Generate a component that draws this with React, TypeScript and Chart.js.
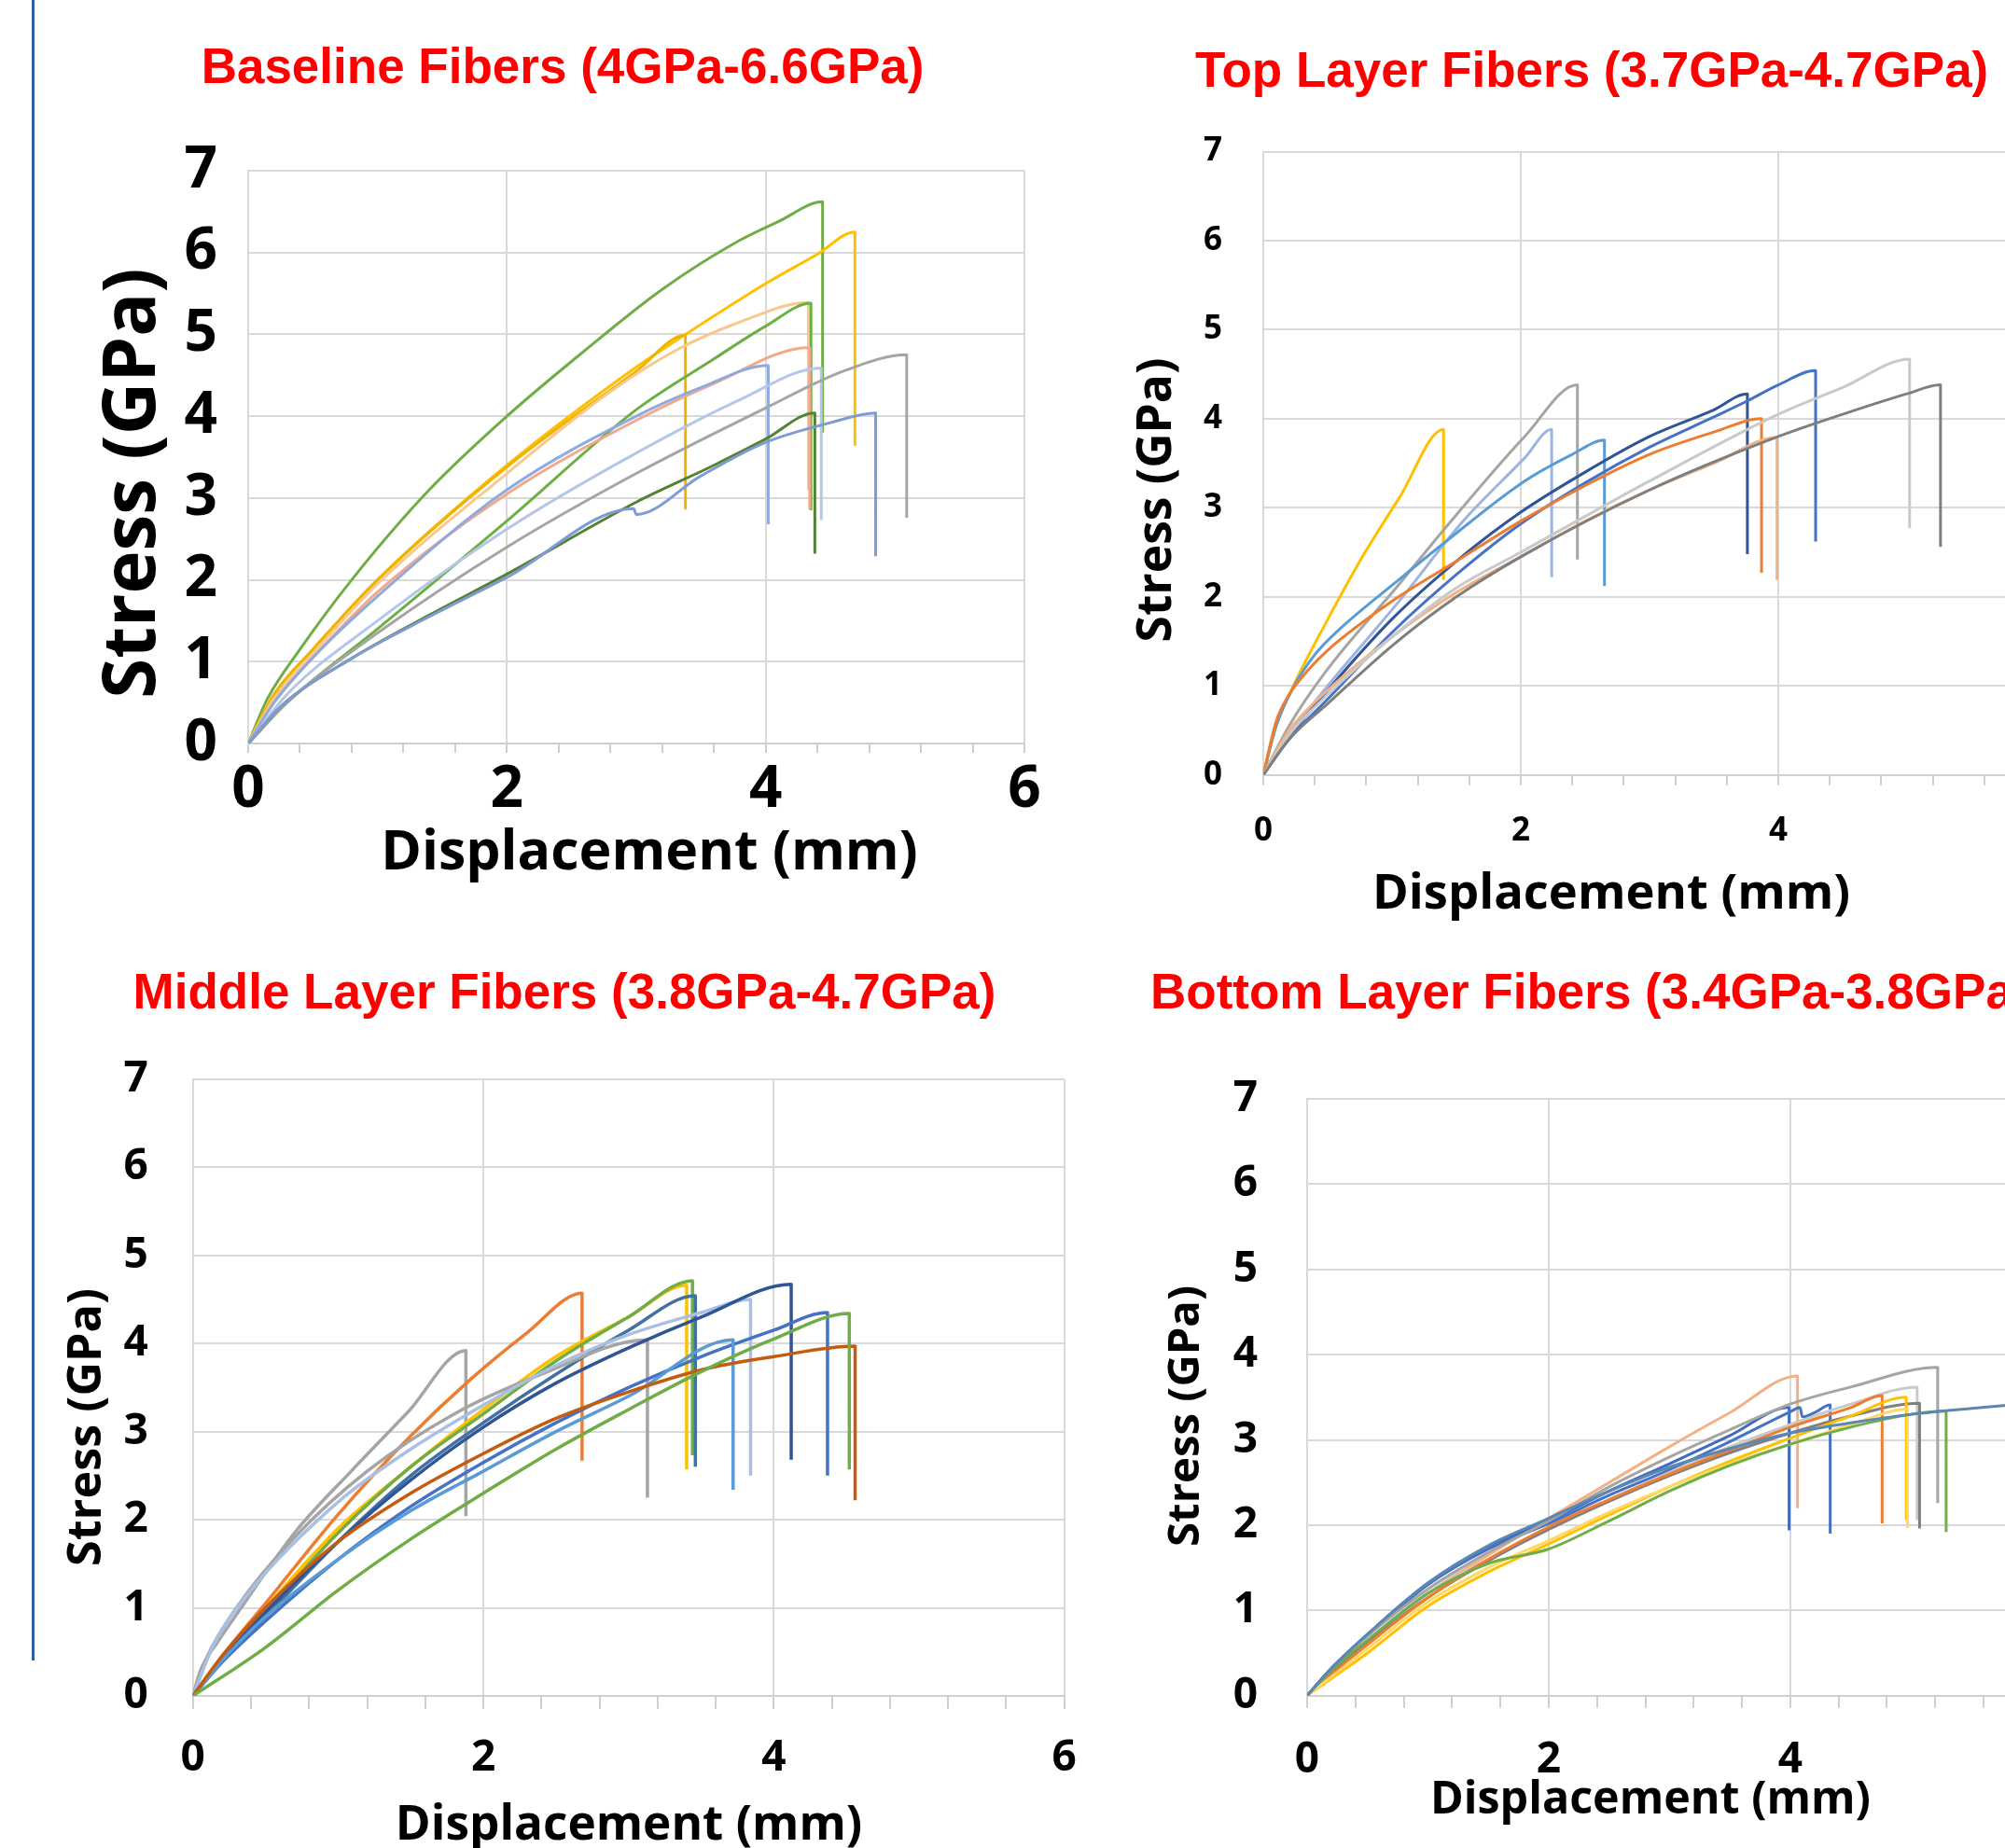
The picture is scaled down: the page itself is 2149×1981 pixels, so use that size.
import React, { useEffect, useRef } from 'react';
import { Chart, registerables } from 'chart.js';

Chart.register(...registerables);

// ---------------- DATA ----------------
// Axis tick settings (shared)
const xAxisMin = 0;
const xAxisMax = 6;
const xMinorStep = 0.4;
const xLabelEvery = 2;
const yAxisMin = 0;
const yAxisMax = 7;
const yStep = 1;

// Baseline fibers
const baselineNames = ['B1', 'B2', 'B3', 'B4', 'B5', 'B6', 'B7', 'B8', 'B9', 'B10', 'B11'];
const baselineX = [
  [0, 0.25, 0.81, 1.4, 2.0, 2.98, 3.0, 3.5, 4.0, 4.5, 4.85, 4.85],
  [0, 0.25, 0.81, 1.4, 2.0, 3.0, 3.6, 4.0, 4.38, 4.38],
  [0, 0.3, 1.0, 2.0, 3.0, 4.0, 4.6, 5.09, 5.09],
  [0, 0.3, 1.0, 2.0, 3.0, 3.8, 4.43, 4.43],
  [0, 0.2, 0.5, 1.0, 2.0, 3.0, 3.5, 4.02, 4.02],
  [0, 0.2, 0.5, 1.0, 2.0, 3.0, 3.6, 4.34, 4.34],
  [0, 0.3, 1.0, 2.0, 3.0, 3.6, 4.0, 4.35, 4.35],
  [0, 0.2, 0.5, 1.0, 2.0, 2.8, 3.3, 3.8, 4.33, 4.33],
  [0, 0.2, 0.5, 1.0, 2.0, 3.0, 3.38, 3.38],
  [0, 0.2, 0.5, 1.0, 2.0, 3.0, 3.4, 4.0, 4.4, 4.69, 4.69],
  [0, 0.15, 0.4, 0.8, 1.4, 2.0, 2.6, 3.2, 3.8, 4.1, 4.44, 4.44],
];
const baselineY = [
  [0, 0.45, 1.05, 1.55, 2.03, 2.87, 2.8, 3.27, 3.68, 3.92, 4.04, 2.29],
  [0, 0.45, 1.05, 1.57, 2.07, 2.95, 3.4, 3.72, 4.04, 2.32],
  [0, 0.5, 1.35, 2.4, 3.3, 4.1, 4.55, 4.75, 2.76],
  [0, 0.6, 1.5, 2.62, 3.55, 4.2, 4.59, 2.73],
  [0, 0.5, 1.05, 1.8, 3.1, 4.0, 4.35, 4.62, 2.68],
  [0, 0.5, 1.05, 1.85, 3.05, 3.95, 4.4, 4.84, 2.86],
  [0, 0.5, 1.4, 2.72, 4.08, 4.7, 5.1, 5.38, 2.85],
  [0, 0.55, 1.1, 1.95, 3.3, 4.3, 4.8, 5.15, 5.39, 3.1],
  [0, 0.6, 1.15, 2.0, 3.38, 4.55, 4.99, 2.86],
  [0, 0.6, 1.15, 2.0, 3.4, 4.6, 5.02, 5.62, 5.98, 6.25, 3.64],
  [0, 0.55, 1.15, 2.0, 3.1, 4.0, 4.8, 5.55, 6.15, 6.38, 6.62, 3.8],
];
const baselineColors = ['#7F9BD6', '#548235', '#A5A5A5', '#B4C7E7', '#8FAADC', '#F2A98A', '#6BAF45', '#F7C98F', '#F0B400', '#FFC000', '#70AD47'];

// Top layer fibers
const topNames = ['T1', 'T2', 'T3', 'T4', 'T5', 'T6', 'T7', 'T8', 'T9', 'T10'];
const topX = [
  [0, 0.2, 0.5, 1, 1.5, 2, 3, 4, 4.5, 5, 5.26, 5.26],
  [0, 0.2, 0.5, 1, 1.5, 2, 3, 4, 4.5, 5.02, 5.02],
  [0, 0.2, 0.5, 1, 1.5, 2, 2.5, 3, 3.5, 3.99, 3.99],
  [0, 0.1, 0.2, 0.35, 0.5, 1, 1.5, 2, 2.5, 3, 3.5, 3.87, 3.87],
  [0, 0.2, 0.5, 1, 1.5, 2, 2.5, 3, 3.5, 3.76, 4.0, 4.29, 4.29],
  [0, 0.2, 0.5, 1, 1.5, 2, 2.5, 3, 3.5, 3.76, 3.76],
  [0, 0.1, 0.24, 0.4, 0.58, 1.06, 1.4, 2.03, 2.4, 2.65, 2.65],
  [0, 0.2, 0.5, 1.06, 1.54, 2.03, 2.24, 2.24],
  [0, 0.2, 0.48, 1.06, 1.4, 2.03, 2.44, 2.44],
  [0, 0.1, 0.24, 0.48, 0.77, 1.06, 1.4, 1.4],
];
const topY = [
  [0, 0.4, 0.8, 1.45, 2.0, 2.45, 3.2, 3.8, 4.05, 4.28, 4.38, 2.56],
  [0, 0.45, 0.9, 1.55, 2.1, 2.5, 3.3, 4.05, 4.35, 4.67, 2.77],
  [0, 0.5, 0.95, 1.55, 2.05, 2.45, 2.85, 3.2, 3.5, 3.79, 2.19],
  [0, 0.6, 0.9, 1.18, 1.4, 1.95, 2.4, 2.85, 3.25, 3.6, 3.85, 4.0, 2.27],
  [0, 0.4, 0.85, 1.6, 2.25, 2.82, 3.28, 3.68, 4.02, 4.2, 4.38, 4.54, 2.62],
  [0, 0.42, 0.95, 1.75, 2.4, 2.95, 3.4, 3.8, 4.1, 4.28, 2.48],
  [0, 0.55, 1.0, 1.35, 1.62, 2.2, 2.6, 3.3, 3.6, 3.76, 2.12],
  [0, 0.45, 1.0, 1.96, 2.83, 3.56, 3.88, 2.22],
  [0, 0.55, 1.15, 2.15, 2.75, 3.8, 4.38, 2.42],
  [0, 0.55, 1.02, 1.69, 2.45, 3.12, 3.88, 2.19],
];
const topColors = ['#7F7F7F', '#C9C9C9', '#F4B183', '#ED7D31', '#4472C4', '#2F5597', '#5B9BD5', '#9DB4E0', '#A5A5A5', '#FFC000'];

// Middle layer fibers
const middleNames = ['M1', 'M2', 'M3', 'M4', 'M5', 'M6', 'M7', 'M8', 'M9', 'M10', 'M11', 'M12'];
const middleX = [
  [0, 0.5, 1, 1.5, 2, 2.5, 3, 3.5, 4, 4.52, 4.52],
  [0, 0.2, 0.5, 1, 1.5, 2, 2.5, 3, 3.5, 4, 4.56, 4.56],
  [0, 0.2, 0.5, 1, 1.5, 2, 2.5, 3, 3.72, 3.72],
  [0, 0.2, 0.5, 1, 1.5, 2, 2.5, 3, 3.5, 4, 4.37, 4.37],
  [0, 0.2, 0.5, 1, 1.5, 2, 2.5, 3, 3.5, 4.12, 4.12],
  [0, 0.15, 0.4, 1, 1.5, 2, 2.5, 3, 3.5, 3.84, 3.84],
  [0, 0.1, 0.3, 0.7, 1.2, 1.8, 2.4, 3.13, 3.13],
  [0, 0.2, 0.5, 1, 1.5, 2, 2.5, 3, 3.46, 3.46],
  [0, 0.2, 0.5, 1, 1.5, 2, 2.5, 3, 3.44, 3.44],
  [0, 0.2, 0.5, 1, 1.5, 2, 2.5, 3, 3.4, 3.4],
  [0, 0.2, 0.5, 0.99, 1.5, 1.91, 2.3, 2.68, 2.68],
  [0, 0.05, 0.17, 0.32, 0.7, 1.09, 1.48, 1.88, 1.88],
];
const middleY = [
  [0, 0.55, 1.2, 1.78, 2.3, 2.8, 3.25, 3.68, 4.05, 4.34, 2.57],
  [0, 0.45, 1.0, 1.75, 2.3, 2.75, 3.15, 3.45, 3.7, 3.85, 3.97, 2.22],
  [0, 0.4, 0.9, 1.55, 2.1, 2.55, 3.0, 3.4, 4.04, 2.34],
  [0, 0.38, 0.85, 1.55, 2.15, 2.65, 3.1, 3.5, 3.85, 4.15, 4.35, 2.5],
  [0, 0.42, 0.95, 1.75, 2.45, 3.05, 3.55, 3.95, 4.3, 4.67, 2.68],
  [0, 0.6, 1.2, 2.2, 2.8, 3.3, 3.75, 4.1, 4.35, 4.5, 2.5],
  [0, 0.45, 1.0, 1.8, 2.55, 3.2, 3.65, 4.04, 2.25],
  [0, 0.4, 0.9, 1.75, 2.5, 3.1, 3.65, 4.15, 4.54, 2.6],
  [0, 0.42, 0.95, 1.85, 2.6, 3.2, 3.8, 4.3, 4.71, 2.73],
  [0, 0.45, 1.0, 1.9, 2.6, 3.25, 3.85, 4.3, 4.66, 2.57],
  [0, 0.45, 1.05, 2.04, 2.95, 3.59, 4.12, 4.57, 2.67],
  [0, 0.28, 0.61, 0.97, 1.85, 2.55, 3.22, 3.92, 2.04],
];
const middleColors = ['#70AD47', '#C55A11', '#5B9BD5', '#4472C4', '#2F5597', '#A9BFE3', '#A5A5A5', '#41729F', '#70AD47', '#FFC000', '#ED7D31', '#A5A5A5'];

// Bottom layer fibers
const bottomNames = ['L1', 'L2', 'L3', 'L4', 'L5', 'L6', 'L7', 'L8', 'L9', 'L10', 'L11'];
const bottomX = [
  [0, 0.2, 0.5, 1, 1.5, 2, 2.5, 3, 3.5, 4, 4.5, 5, 5.5, 6],
  [0, 0.2, 0.5, 1, 1.5, 2, 2.5, 3, 3.5, 4, 4.5, 5, 5.29, 5.29],
  [0, 0.2, 0.5, 1, 1.5, 2, 2.5, 3, 3.5, 4, 4.5, 4.97, 4.97],
  [0, 0.2, 0.5, 1, 1.5, 2, 2.5, 3, 3.5, 4, 4.5, 4.96, 4.96],
  [0, 0.2, 0.5, 1, 1.5, 2, 2.5, 3, 3.5, 4, 4.5, 4.76, 4.76],
  [0, 0.2, 0.5, 1, 1.5, 2, 2.5, 3, 3.5, 4, 4.5, 5.07, 5.07],
  [0, 0.2, 0.5, 1, 1.5, 2, 2.5, 3, 3.5, 4, 4.5, 5.05, 5.05],
  [0, 0.2, 0.5, 1, 1.5, 2, 2.5, 3, 3.5, 4, 4.5, 5.22, 5.22],
  [0, 0.2, 0.5, 1, 1.5, 2, 2.5, 3, 3.5, 4.0, 4.08, 4.1, 4.2, 4.33, 4.33],
  [0, 0.2, 0.5, 1, 1.5, 2, 2.5, 3, 3.5, 3.99, 3.99],
  [0, 0.2, 0.5, 1, 1.5, 2, 2.5, 3, 3.5, 4.06, 4.06],
];
const bottomY = [
  [0, 0.32, 0.72, 1.32, 1.76, 2.08, 2.4, 2.68, 2.9, 3.08, 3.2, 3.3, 3.37, 3.43],
  [0, 0.3, 0.65, 1.2, 1.55, 1.72, 2.05, 2.4, 2.7, 2.95, 3.15, 3.3, 3.34, 1.92],
  [0, 0.22, 0.55, 1.1, 1.5, 1.82, 2.15, 2.45, 2.72, 2.95, 3.18, 3.36, 1.97],
  [0, 0.2, 0.5, 1.05, 1.45, 1.78, 2.12, 2.45, 2.75, 3.02, 3.28, 3.5, 2.06],
  [0, 0.25, 0.6, 1.15, 1.6, 1.98, 2.3, 2.6, 2.88, 3.15, 3.38, 3.52, 2.02],
  [0, 0.27, 0.62, 1.15, 1.58, 1.95, 2.28, 2.58, 2.85, 3.08, 3.28, 3.43, 1.96],
  [0, 0.28, 0.65, 1.2, 1.6, 1.95, 2.3, 2.62, 2.92, 3.18, 3.42, 3.62, 2.06],
  [0, 0.3, 0.7, 1.25, 1.68, 2.05, 2.45, 2.8, 3.12, 3.42, 3.62, 3.85, 2.26],
  [0, 0.32, 0.7, 1.3, 1.72, 2.02, 2.35, 2.65, 2.98, 3.33, 3.38, 3.27, 3.32, 3.41, 1.9],
  [0, 0.32, 0.72, 1.32, 1.75, 2.05, 2.4, 2.72, 3.05, 3.38, 1.94],
  [0, 0.27, 0.62, 1.2, 1.65, 2.08, 2.5, 2.92, 3.32, 3.75, 2.2],
];
const bottomColors = ['#5B87B5', '#70AD47', '#FFD966', '#FFC000', '#ED7D31', '#7F7F7F', '#C9C9C9', '#A5A5A5', '#4472C4', '#3F6BBF', '#F4B183'];

// Text
const baselineTitle = 'Baseline Fibers (4GPa-6.6GPa)';
const topTitle = 'Top Layer Fibers (3.7GPa-4.7GPa)';
const middleTitle = 'Middle Layer Fibers (3.8GPa-4.7GPa)';
const bottomTitle = 'Bottom Layer Fibers (3.4GPa-3.8GPa)';
const xAxisTitle = 'Displacement (mm)';
const yAxisTitle = 'Stress (GPa)';

// ---------------- STYLE / LAYOUT ----------------
const TITLE_FONT = '"Liberation Sans", Arial, sans-serif';
const AXIS_FONT = '"Open Sans", sans-serif';
const GRID = '#D9D9D9';
const AXIS_LINE = '#CFCFCF';

type Box = { left: number; top: number; width: number; height: number };
type Plot = { left: number; right: number; top: number; bottom: number };
type TextSpec = { text: string; x: number; y: number; size: number; align: CanvasTextAlign; rotate?: boolean; family: string; color: string };

type PanelSpec = {
  canvas: Box;
  plot: Plot;
  tickSize: number;
  yTickPad: number;
  xTickLen: number;
  xTickPad: number;
  lineWidth: number;
  texts: TextSpec[];
  names: string[];
  xs: number[][];
  ys: number[][];
  colors: string[];
};

const isMultiple = (v: number, m: number) => Math.abs(v / m - Math.round(v / m)) < 1e-6;

function makeTextPlugin(spec: PanelSpec) {
  return {
    id: 'panelText',
    afterDraw(chart: any) {
      const ctx: CanvasRenderingContext2D = chart.ctx;
      for (const t of spec.texts) {
        ctx.save();
        ctx.font = `bold ${t.size}px ${t.family}`;
        ctx.fillStyle = t.color;
        ctx.textAlign = t.align;
        ctx.textBaseline = 'middle';
        ctx.translate(t.x - spec.canvas.left, t.y - spec.canvas.top);
        if (t.rotate) ctx.rotate(-Math.PI / 2);
        ctx.fillText(t.text, 0, 0);
        ctx.restore();
      }
    },
  };
}

function buildConfig(spec: PanelSpec): any {
  const { canvas, plot } = spec;
  const padTop = plot.top - canvas.top;
  const padRight = canvas.left + canvas.width - plot.right;
  const yAxisWidth = plot.left - canvas.left;
  const xAxisHeight = canvas.top + canvas.height - plot.bottom;
  const tickFont = { family: AXIS_FONT, size: spec.tickSize, weight: 'bold' as const };
  return {
    type: 'line',
    data: {
      datasets: spec.xs.map((xs, i) => ({
        label: spec.names[i],
        data: xs.map((x, j) => ({ x, y: spec.ys[i][j] })),
        borderColor: spec.colors[i],
        backgroundColor: spec.colors[i],
        borderWidth: spec.lineWidth,
        pointRadius: 0,
        pointHoverRadius: 0,
        fill: false,
        cubicInterpolationMode: 'monotone',
        borderJoinStyle: 'round',
      })),
    },
    options: {
      animation: false,
      responsive: false,
      maintainAspectRatio: false,
      devicePixelRatio: 1,
      events: [],
      layout: { padding: { top: padTop, right: padRight, left: 0, bottom: 0 } },
      plugins: {
        legend: { display: false },
        tooltip: { enabled: false },
        title: { display: false },
      },
      scales: {
        x: {
          type: 'linear',
          min: xAxisMin,
          max: xAxisMax,
          afterFit: (s: any) => {
            s.height = xAxisHeight;
          },
          ticks: {
            stepSize: xMinorStep,
            autoSkip: false,
            maxRotation: 0,
            minRotation: 0,
            padding: spec.xTickPad,
            color: '#000000',
            font: tickFont,
            callback: (v: any) => (isMultiple(Number(v), xLabelEvery) ? String(Math.round(Number(v))) : ''),
          },
          grid: {
            color: (c: any) => (c.tick && isMultiple(c.tick.value, xLabelEvery) ? GRID : 'rgba(0,0,0,0)'),
            lineWidth: 2,
            drawTicks: true,
            tickLength: spec.xTickLen,
            tickColor: AXIS_LINE,
            tickWidth: 2,
          },
          border: { display: true, color: AXIS_LINE, width: 2 },
        },
        y: {
          type: 'linear',
          min: yAxisMin,
          max: yAxisMax,
          afterFit: (s: any) => {
            s.width = yAxisWidth;
          },
          ticks: {
            stepSize: yStep,
            padding: spec.yTickPad,
            color: '#000000',
            font: tickFont,
          },
          grid: { color: GRID, lineWidth: 2, drawTicks: false },
          border: { display: true, color: GRID, width: 2 },
        },
      },
    },
    plugins: [makeTextPlugin(spec)],
  };
}

function mkTexts(
  title: { text: string; x: number; y: number; align: CanvasTextAlign },
  xt: { x: number; y: number; size: number },
  yt: { x: number; y: number; size: number }
): TextSpec[] {
  return [
    { text: title.text, x: title.x, y: title.y, size: 53, align: title.align, family: TITLE_FONT, color: '#FF0000' },
    { text: xAxisTitle, x: xt.x, y: xt.y, size: xt.size, align: 'center', family: AXIS_FONT, color: '#000000' },
    { text: yAxisTitle, x: yt.x, y: yt.y, size: yt.size, align: 'center', rotate: true, family: AXIS_FONT, color: '#000000' },
  ];
}

const panels: PanelSpec[] = [
  {
    canvas: { left: 0, top: 0, width: 1140, height: 990 },
    plot: { left: 266, right: 1098, top: 183, bottom: 797 },
    tickSize: 62,
    yTickPad: 33,
    xTickLen: 10,
    xTickPad: 3,
    lineWidth: 3,
    texts: mkTexts({ text: baselineTitle, x: 603, y: 74, align: 'center' }, { x: 696, y: 915, size: 59 }, { x: 144, y: 518, size: 78 }),
    names: baselineNames,
    xs: baselineX,
    ys: baselineY,
    colors: baselineColors,
  },
  {
    canvas: { left: 1160, top: 0, width: 1060, height: 1000 },
    plot: { left: 1354, right: 2185, top: 162.5, bottom: 830.7 },
    tickSize: 35,
    yTickPad: 44,
    xTickLen: 11,
    xTickPad: 28,
    lineWidth: 3,
    texts: mkTexts({ text: topTitle, x: 1281, y: 78, align: 'left' }, { x: 1727, y: 959, size: 52.5 }, { x: 1240, y: 536, size: 51.5 }),
    names: topNames,
    xs: topX,
    ys: topY,
    colors: topColors,
  },
  {
    canvas: { left: 0, top: 1000, width: 1180, height: 981 },
    plot: { left: 206.7, right: 1140.7, top: 1156.7, bottom: 1818 },
    tickSize: 46,
    yTickPad: 48,
    xTickLen: 14,
    xTickPad: 25,
    lineWidth: 3.5,
    texts: mkTexts({ text: middleTitle, x: 605, y: 1066, align: 'center' }, { x: 674, y: 1957, size: 51.3 }, { x: 94, y: 1530, size: 50.4 }),
    names: middleNames,
    xs: middleX,
    ys: middleY,
    colors: middleColors,
  },
  {
    canvas: { left: 1180, top: 1000, width: 1040, height: 981 },
    plot: { left: 1401, right: 2182.5, top: 1178, bottom: 1817.7 },
    tickSize: 46,
    yTickPad: 53,
    xTickLen: 13,
    xTickPad: 29,
    lineWidth: 3,
    texts: mkTexts({ text: bottomTitle, x: 1233, y: 1066, align: 'left' }, { x: 1769, y: 1930, size: 48.4 }, { x: 1272, y: 1518, size: 47.3 }),
    names: bottomNames,
    xs: bottomX,
    ys: bottomY,
    colors: bottomColors,
  },
];

function Panel({ spec }: { spec: PanelSpec }) {
  const ref = useRef<HTMLCanvasElement | null>(null);
  useEffect(() => {
    if (!ref.current) return;
    const chart = new Chart(ref.current, buildConfig(spec));
    return () => chart.destroy();
  }, [spec]);
  return (
    <canvas
      ref={ref}
      width={spec.canvas.width}
      height={spec.canvas.height}
      style={{
        position: 'absolute',
        left: spec.canvas.left,
        top: spec.canvas.top,
        width: spec.canvas.width,
        height: spec.canvas.height,
      }}
    />
  );
}

export default function App() {
  return (
    <div
      style={{
        position: 'absolute',
        left: 0,
        top: 0,
        width: 2149,
        height: 1981,
        overflow: 'hidden',
        background: '#FFFFFF',
      }}
    >
      {panels.map((p, i) => (
        <Panel key={i} spec={p} />
      ))}
      <div style={{ position: 'absolute', left: 34, top: 0, width: 3, height: 1780, background: '#2F5DA8' }} />
    </div>
  );
}
